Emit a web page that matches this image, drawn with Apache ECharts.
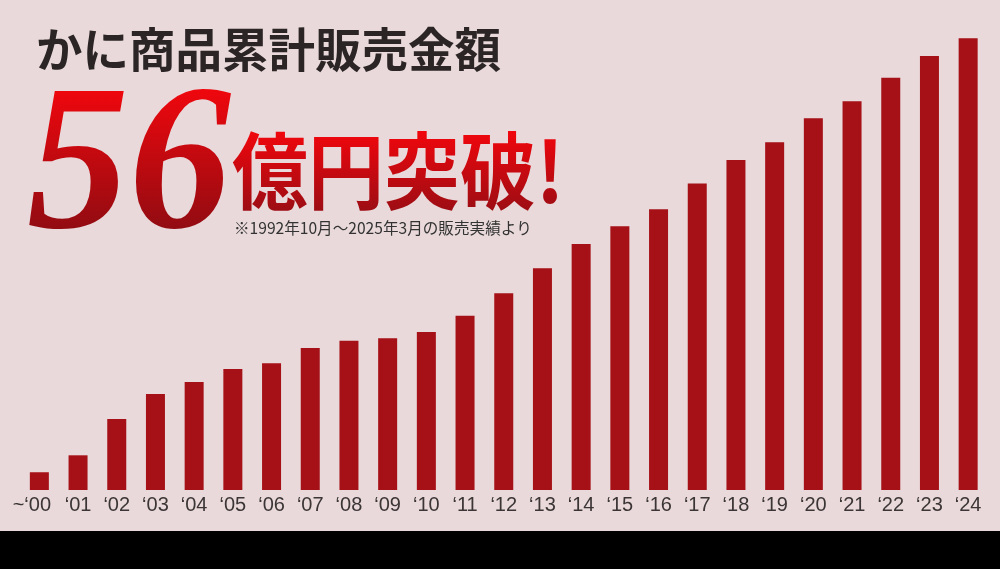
<!DOCTYPE html>
<html>
<head>
<meta charset="utf-8">
<script src="https://cdn.jsdelivr.net/npm/echarts@6/dist/echarts.min.js"></script>
<style>
html,body{margin:0;padding:0;background:#e9d9da;}
#c{width:1000px;height:569px;background:#e9d9da;}
</style>
</head>
<body>
<div id="c"></div>
<script>
const categories = ['~‘00','‘01','‘02','‘03','‘04','‘05','‘06','‘07','‘08','‘09','‘10','‘11','‘12','‘13','‘14','‘15','‘16','‘17','‘18','‘19','‘20','‘21','‘22','‘23','‘24'];
const sales = [2.2, 4.3, 8.8, 11.9, 13.4, 15.0, 15.7, 17.6, 18.5, 18.8, 19.6, 21.6, 24.4, 27.5, 30.5, 32.7, 34.8, 38.0, 40.9, 43.1, 46.1, 48.2, 51.1, 53.8, 56.0];
const titleText = 'かに商品累計販売金額';
const bigNumber = '56';
const bigSuffix = '億円突破!';
const noteText = '※1992年10月～2025年3月の販売実績より';

const chart = echarts.init(document.getElementById('c'), null, {renderer: 'canvas'});
const redGrad = (top, bottom) => new echarts.graphic.LinearGradient(0, 0, 0, 1, [
  {offset: 0, color: top}, {offset: 1, color: bottom}
]);
chart.setOption({
  animation: false,
  grid: {left: 20, right: 12.5, top: 6, bottom: 79, containLabel: false},
  xAxis: {
    type: 'category',
    data: categories,
    axisLine: {show: false},
    axisTick: {show: false},
    axisLabel: {
      interval: 0,
      margin: 5,
      color: '#3b3536',
      fontSize: 20,
      fontFamily: '"Liberation Sans", Arial, sans-serif',
      formatter: function (v, i) { return i === 0 ? '{f|' + v + '}' : v; },
      rich: {f: {padding: [0, 15, 0, 0], fontSize: 20, color: '#3b3536', fontFamily: '"Liberation Sans", Arial, sans-serif'}}
    }
  },
  yAxis: {type: 'value', min: 0, max: 60, show: false, splitLine: {show: false}},
  series: [{
    type: 'bar',
    data: sales,
    barWidth: 19,
    itemStyle: {color: '#a51117'}
  }],
  graphic: [
    {type: 'rect', shape: {x: 0, y: 531, width: 1000, height: 38}, style: {fill: '#000'}, z: 10},
    {type: 'text', x: 36, y: 49, z: 10, style: {
      text: titleText, x: 0, y: 0, fill: '#2b2526', lineHeight: 46,
      font: 'bold 46.5px "Noto Sans CJK JP"', textAlign: 'left', textVerticalAlign: 'middle'
    }},
    {type: 'text', x: 27, y: 173.5, scaleX: 0.98, z: 10, style: {
      text: bigNumber, x: 0, y: 0, fill: '#d00a10', lineHeight: 150,
      font: 'italic bold 208px "Liberation Serif"', textAlign: 'left', textVerticalAlign: 'middle'
    }},
    {type: 'text', x: 232, y: 171, scaleY: 1.1, z: 10, style: {
      text: bigSuffix, x: 0, y: 0, fill: '#d00a10', lineHeight: 72,
      font: 'bold 76px "Noto Sans CJK JP"', textAlign: 'left', textVerticalAlign: 'middle'
    }},
    /* gradient tint applied only onto the already-drawn red headline glyphs */
    {type: 'rect', z: 11, silent: true, shape: {x: 15, y: 80, width: 222, height: 158},
      style: {fill: redGrad('#f5070d', '#8c0c12'), blend: 'source-atop'}},
    {type: 'rect', z: 11, silent: true, shape: {x: 228, y: 128, width: 345, height: 86},
      style: {fill: redGrad('#f4060c', '#9a0d14'), blend: 'source-atop'}},
    {type: 'text', x: 234, y: 228, z: 12, style: {
      text: noteText, x: 0, y: 0, fill: '#333', lineHeight: 16,
      font: '15.6px "Noto Sans CJK JP"', textAlign: 'left', textVerticalAlign: 'middle'
    }}
  ]
});
</script>
</body>
</html>
